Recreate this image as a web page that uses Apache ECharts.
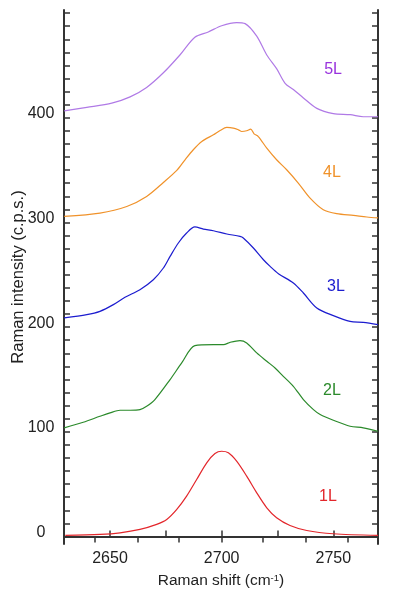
<!DOCTYPE html>
<html>
<head>
<meta charset="utf-8">
<script src="https://cdn.jsdelivr.net/npm/echarts@6/dist/echarts.min.js"></script>
<style>
  html, body { margin: 0; padding: 0; background: #fff; }
  #main { width: 406px; height: 602px; }
</style>
</head>
<body>
<div id="main"></div>
<script>
// Raman 2D band, 1 to 5 layers (offset spectra)
var names = ['1L', '2L', '3L', '4L', '5L'];
var lineColors = ['#e3262b', '#2b8a2b', '#1c1ccf', '#f0922a', '#b07ae6'];
var textColors = ['#e3262b', '#2b8a2b', '#1c1ccf', '#f0922a', '#9933dd'];

var x1L = [2630, 2645.5, 2654.5, 2663.4, 2670.9, 2675.4, 2679.9, 2684.3, 2688.8, 2693.3, 2697, 2700, 2703, 2706.7, 2711.2, 2715.7, 2720.2, 2724.6, 2730.6, 2738.1, 2750, 2770];
var y1L = [1, 2, 3.5, 6.7, 11.5, 16.2, 25.8, 38.5, 54.4, 70.4, 79.2, 81.4, 79.9, 71.9, 57.6, 41.7, 27.4, 17.9, 10.5, 5.7, 2.6, 1];

var x2L = [2629.5, 2638, 2645.5, 2650, 2654.5, 2659, 2663.4, 2666.4, 2670.1, 2676.9, 2682.1, 2688, 2696.3, 2700.8, 2703.8, 2708.2, 2711.2, 2715.7, 2720.2, 2723.9, 2727.6, 2732.1, 2736.6, 2741.1, 2744.1, 2750, 2757.5, 2763.4, 2770];
var y2L = [103.8, 109.1, 114.8, 118.1, 120.6, 120.6, 121.2, 124.4, 130.8, 149.9, 165.8, 182.3, 183.3, 183.3, 185.5, 187.1, 184.9, 175.4, 167.4, 161, 153, 143.5, 130.8, 121.2, 116.5, 111, 105.3, 103.8, 100.5];

var x3L = [2629.5, 2639.6, 2645.5, 2651.5, 2656.7, 2663.4, 2669.4, 2673.9, 2676.9, 2680.6, 2684.3, 2688, 2691.8, 2696.3, 2702.3, 2708.2, 2709.7, 2714.2, 2718.7, 2721.7, 2725.4, 2732.1, 2736.6, 2742.6, 2750, 2757.5, 2763.4, 2770];
var y3L = [208.8, 211.9, 215.1, 221.5, 228.5, 235.8, 245.3, 256.5, 267.6, 280.4, 289.9, 295.7, 293.7, 292.1, 289, 286.7, 285.2, 275.6, 264.4, 258, 251.1, 242.2, 232.6, 218.3, 211, 205.5, 204.6, 202.4];

var x4L = [2629.5, 2645.5, 2657.5, 2666.4, 2673.9, 2679.9, 2683.6, 2687.3, 2691.1, 2696.3, 2699.3, 2702.3, 2705.2, 2707.5, 2709, 2711.2, 2713, 2714.5, 2716.4, 2720.2, 2724.6, 2729.1, 2734.3, 2739.6, 2745.5, 2751.5, 2759, 2765, 2770];
var y4L = [305.8, 309, 315.3, 324.9, 338.2, 349.7, 359.9, 369.5, 377.4, 383.8, 387.9, 390.8, 390.2, 388.5, 386.9, 387.6, 389.2, 384.7, 382.1, 371, 359.9, 350.4, 337.7, 323.3, 312.2, 308.4, 306.7, 305.2, 304.3];

var x5L = [2629.5, 2639.6, 2650.8, 2659, 2666.4, 2673.9, 2681.3, 2688, 2694, 2700, 2706.7, 2710.5, 2715.7, 2720.2, 2724.6, 2728.4, 2732.1, 2736.6, 2742.6, 2750, 2757.5, 2763.4, 2770];
var y5L = [406.7, 410, 414, 420, 429, 443, 460, 477, 482, 488, 491, 490, 478, 460, 447, 433, 427, 419, 409, 404, 403, 401, 401];

// where the layer names sit (data coordinates)
var labelAt = [[2747.6, 38.2], [2749.4, 139.4], [2751.2, 238.7], [2749.4, 347.5], [2749.9, 445.8]];

// axis ticks
var xLabels = [2650, 2700, 2750];
var xTicks = [2650, 2675, 2700, 2725, 2750];
var xTopTicks = [2643.3, 2662.2, 2681, 2700, 2718.6, 2737.6, 2756.4];
var yLabels = [0, 100, 200, 300, 400];
var yTicks = [];
for (var t = 0; t <= 500; t += 12.5) yTicks.push(t);

var xs = [x1L, x2L, x3L, x4L, x5L];
var ys = [y1L, y2L, y3L, y4L, y5L];

function pairs(a, b) {
    var out = [];
    for (var i = 0; i < a.length; i++) out.push([a[i], b[i]]);
    return out;
}

function plain(v) {
    return String(v);
}

var font = '"Liberation Sans", Arial, sans-serif';
var frame = { color: '#333', width: 2 };

var series = names.map(function (n, i) {
    return {
        name: n,
        type: 'line',
        data: pairs(xs[i], ys[i]),
        smooth: 0.3,
        showSymbol: false,
        lineStyle: { color: lineColors[i], width: 1.2 },
        markPoint: {
            symbol: 'circle',
            symbolSize: 0,
            data: [{ coord: labelAt[i] }],
            label: {
                show: true,
                position: 'inside',
                formatter: n,
                color: textColors[i],
                fontSize: 16,
                fontFamily: font
            }
        }
    };
});

var myChart = echarts.init(document.getElementById('main'));

var option = {
    animation: false,
    backgroundColor: '#fff',
    grid: { left: 64, right: 28, top: 10, bottom: 58, outerBoundsMode: 'none' },
    xAxis: [{
        type: 'value',
        position: 'bottom',
        min: 2629.4,
        max: 2770,
        name: 'Raman shift (cm{sup|-1})',
        nameLocation: 'middle',
        nameGap: 29,
        nameMoveOverlap: false,
        nameTextStyle: {
            fontSize: 15.5, color: '#222', fontFamily: font,
            rich: { sup: { fontSize: 9.5, color: '#222', fontFamily: font, verticalAlign: 'top', lineHeight: 9 } }
        },
        axisLine: { lineStyle: frame },
        axisTick: { inside: true, length: 6, customValues: xTicks, lineStyle: { color: '#333', width: 1.5 } },
        axisLabel: { customValues: xLabels, formatter: plain, fontSize: 16, color: '#222', fontFamily: font, margin: 7 },
        splitLine: { show: false }
    }, {
        type: 'value',
        position: 'top',
        min: 2629.4,
        max: 2770,
        axisLine: { lineStyle: frame },
        axisTick: { inside: true, length: 6, customValues: xTopTicks, lineStyle: { color: '#333', width: 1.5 } },
        axisLabel: { show: false },
        splitLine: { show: false }
    }],
    yAxis: [{
        type: 'value',
        position: 'left',
        min: -7.2,
        max: 503,
        name: 'Raman intensity (c.p.s.)',
        nameLocation: 'middle',
        nameGap: 37,
        nameMoveOverlap: false,
        nameTextStyle: { fontSize: 16.5, color: '#222', fontFamily: font },
        axisLine: { lineStyle: frame },
        axisTick: { inside: true, length: 6, customValues: yTicks, lineStyle: { color: '#333', width: 1.5 } },
        axisLabel: {
            customValues: yLabels, formatter: plain, fontSize: 16, color: '#222', fontFamily: font,
            align: 'center', margin: 23, verticalAlign: 'bottom', lineHeight: 8
        },
        splitLine: { show: false }
    }, {
        type: 'value',
        position: 'right',
        min: -7.2,
        max: 503,
        axisLine: { lineStyle: frame },
        axisTick: { inside: true, length: 6, customValues: yTicks, lineStyle: { color: '#333', width: 1.5 } },
        axisLabel: { show: false },
        splitLine: { show: false }
    }],
    series: series
};

myChart.setOption(option);
</script>
</body>
</html>
